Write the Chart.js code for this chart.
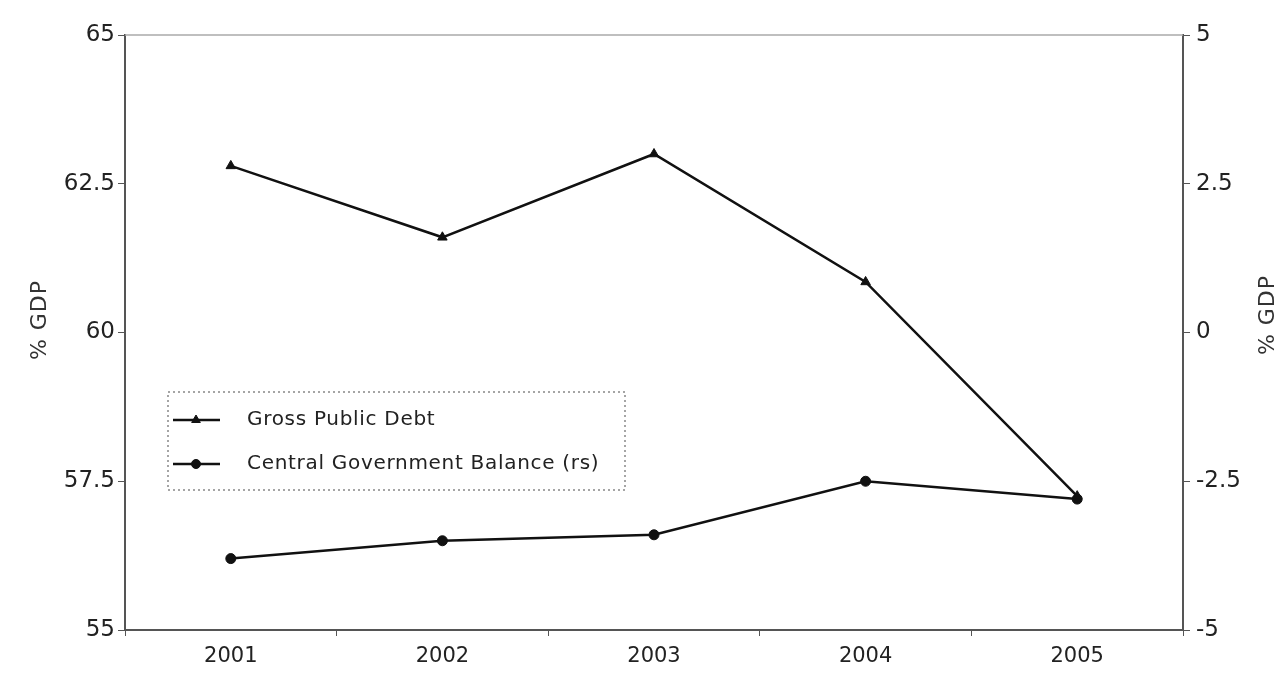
<!DOCTYPE html>
<html>
<head>
<meta charset="utf-8">
<script src="https://cdn.jsdelivr.net/npm/chart.js@4.4.0/dist/chart.umd.min.js"></script>
<style>
  html, body { margin: 0; padding: 0; background: #fff; }
  #wrap { width: 1278px; height: 686px; }
</style>
</head>
<body>
<div id="wrap"><canvas id="grafico" width="1278" height="686"></canvas></div>
<script>
// data
const years = ["2001", "2002", "2003", "2004", "2005"];
const grossDebt = [62.8, 61.6, 63.0, 60.85, 57.25];
const govBalance = [-3.8, -3.5, -3.4, -2.5, -2.8];
const leftTicks = [55, 57.5, 60, 62.5, 65];
const rightTicks = [-5, -2.5, 0, 2.5, 5];
const axisTitle = "% GDP";

const fuente = "'DejaVu Sans', Arial, sans-serif";
const ejeColor = "#555";

// legend box drawn inside the plot, dotted border
const leyendaInterna = {
  id: "leyendaInterna",
  afterDraw(chart) {
    const ctx = chart.ctx;
    const area = chart.chartArea;
    const x0 = area.left + 43, y0 = 392, w = 457, h = 98;
    ctx.save();
    ctx.fillStyle = "#fff";
    ctx.fillRect(x0, y0, w, h);
    ctx.setLineDash([2, 3]);
    ctx.strokeStyle = "#888";
    ctx.lineWidth = 1.5;
    ctx.strokeRect(x0, y0, w, h);
    ctx.setLineDash([]);
    chart.data.datasets.forEach((ds, i) => {
      const y = y0 + 28 + i * 44;
      ctx.strokeStyle = ds.borderColor;
      ctx.lineWidth = ds.borderWidth;
      ctx.beginPath();
      ctx.moveTo(x0 + 5, y);
      ctx.lineTo(x0 + 52, y);
      ctx.stroke();
      ctx.fillStyle = ds.backgroundColor;
      ctx.lineWidth = 1;
      Chart.helpers.drawPoint(ctx, {
        pointStyle: ds.pointStyle,
        radius: ds.pointRadius - 0.5,
        rotation: 0,
        borderWidth: 1
      }, x0 + 28, y);
      ctx.fillStyle = "#222";
      ctx.font = "20px " + fuente;
      ctx.letterSpacing = "0.7px";
      ctx.textBaseline = "middle";
      ctx.fillText(ds.label, x0 + 79, y);
      ctx.letterSpacing = "0px";
    });
    ctx.restore();
  }
};

// top border of the plot and both axis titles (both read bottom to top)
const marco = {
  id: "marco",
  afterDraw(chart) {
    const ctx = chart.ctx;
    const area = chart.chartArea;
    ctx.save();
    ctx.strokeStyle = "#aaa";
    ctx.lineWidth = 1.5;
    ctx.beginPath();
    ctx.moveTo(area.left, area.top);
    ctx.lineTo(area.right, area.top);
    ctx.stroke();
    ctx.fillStyle = "#333";
    ctx.font = "22px " + fuente;
    ctx.letterSpacing = "1px";
    ctx.textAlign = "center";
    ctx.textBaseline = "middle";
    [[40, 320], [1268, 315]].forEach(([tx, ty]) => {
      ctx.save();
      ctx.translate(tx, ty);
      ctx.rotate(-Math.PI / 2);
      ctx.fillText(axisTitle, 0, 0);
      ctx.restore();
    });
    ctx.restore();
  }
};

new Chart(document.getElementById("grafico"), {
  type: "line",
  data: {
    labels: years,
    datasets: [
      {
        label: "Gross Public Debt",
        data: grossDebt,
        yAxisID: "y",
        borderColor: "#111",
        backgroundColor: "#111",
        borderWidth: 2.5,
        pointStyle: "triangle",
        pointRadius: 5.5,
        pointBorderWidth: 1,
        tension: 0
      },
      {
        label: "Central Government Balance (rs)",
        data: govBalance,
        yAxisID: "y1",
        borderColor: "#111",
        backgroundColor: "#111",
        borderWidth: 2.5,
        pointStyle: "circle",
        pointRadius: 5,
        pointBorderWidth: 1,
        tension: 0
      }
    ]
  },
  options: {
    responsive: false,
    animation: false,
    layout: { padding: { top: 35, right: 0, left: 0, bottom: 0 } },
    plugins: {
      legend: { display: false },
      tooltip: { enabled: false }
    },
    scales: {
      x: {
        offset: true,
        afterFit: (s) => { s.height = 56; },
        grid: {
          offset: true,
          drawOnChartArea: false,
          drawTicks: true,
          tickLength: 6,
          color: ejeColor
        },
        border: { color: ejeColor, width: 2 },
        ticks: {
          color: "#222",
          font: { family: fuente, size: 21 },
          padding: 8
        }
      },
      y: {
        position: "left",
        min: 55,
        max: 65,
        afterFit: (s) => { s.width = 125; },
        afterBuildTicks: (s) => { s.ticks = leftTicks.map((v) => ({ value: v })); },
        grid: { drawOnChartArea: false, tickLength: 7, color: ejeColor },
        border: { color: ejeColor, width: 2 },
        ticks: {
          color: "#222",
          font: { family: fuente, size: 23 },
          padding: 3
        }
      },
      y1: {
        position: "right",
        min: -5,
        max: 5,
        afterFit: (s) => { s.width = 95; },
        afterBuildTicks: (s) => { s.ticks = rightTicks.map((v) => ({ value: v })); },
        grid: { drawOnChartArea: false, tickLength: 7, color: ejeColor },
        border: { color: ejeColor, width: 2 },
        ticks: {
          color: "#222",
          font: { family: fuente, size: 23 },
          padding: 6
        }
      }
    }
  },
  plugins: [leyendaInterna, marco]
});
</script>
</body>
</html>
